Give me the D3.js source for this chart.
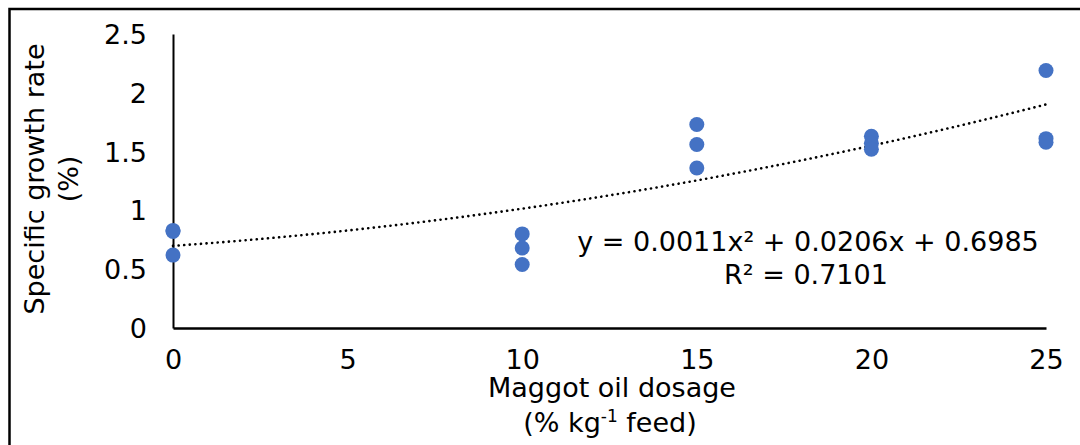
<!DOCTYPE html>
<html>
<head>
<meta charset="utf-8">
<script src="https://cdn.jsdelivr.net/npm/d3@7"></script>
<style>
  body { margin: 0; background: #fff; }
  svg text { font-family: "DejaVu Sans", Verdana, sans-serif; fill: #000; }
</style>
</head>
<body>
<svg id="chart"></svg>
<script>
// data
var dosage = [0, 0, 0, 10, 10, 10, 15, 15, 15, 20, 20, 20, 25, 25, 25];
var sgr    = [0.83, 0.82, 0.62, 0.80, 0.68, 0.54, 1.73, 1.56, 1.36, 1.63, 1.57, 1.52, 2.19, 1.61, 1.58];
var xTicks = [0, 5, 10, 15, 20, 25];
var yTicks = [0, 0.5, 1, 1.5, 2, 2.5];
var coef = [0.0011, 0.0206, 0.6985]; // a, b, c
var eqLabel = "y = 0.0011x² + 0.0206x + 0.6985";
var r2Label = "R² = 0.7101";

var W = 1080, H = 445, fs = "27px";
var svg = d3.select("#chart").attr("width", W).attr("height", H);

// outer frame (cropped on right/bottom)
svg.append("rect")
  .attr("x", 9.5).attr("y", 9)
  .attr("width", W + 20).attr("height", H + 20)
  .attr("fill", "none").attr("stroke", "#000").attr("stroke-width", 2.5);

var x = d3.scaleLinear().domain([0, 25]).range([173, 1046]);
var y = d3.scaleLinear().domain([0, 2.5]).range([328, 34]);

// axes
var xAxis = svg.append("g").attr("transform", "translate(0," + y(0) + ")")
  .call(d3.axisBottom(x).tickValues(xTicks).tickSize(0).tickPadding(22).tickFormat(d3.format("d")));
var yAxis = svg.append("g").attr("transform", "translate(" + x(0) + ",0)")
  .call(d3.axisLeft(y).tickValues(yTicks).tickSize(0).tickPadding(26).tickFormat(function(d){ return String(d); }));

xAxis.select(".domain").attr("stroke", "#000").attr("stroke-width", 2.5);
yAxis.select(".domain").attr("stroke", "#000").attr("stroke-width", 2);
svg.selectAll(".tick text").style("font-size", fs).style("font-family", '"DejaVu Sans", Verdana, sans-serif').attr("fill", "#000");
yAxis.selectAll(".tick text").attr("dy", "0.35em");
xAxis.selectAll(".tick text").attr("dy", "0.71em");

// trendline
var trend = d3.range(0, 25.01, 0.25).map(function(v) {
  return [v, coef[0] * v * v + coef[1] * v + coef[2]];
});
svg.append("path")
  .datum(trend)
  .attr("fill", "none")
  .attr("stroke", "#000")
  .attr("stroke-width", 2.6)
  .attr("stroke-dasharray", "0.1 5.5")
  .attr("stroke-linecap", "round")
  .attr("d", d3.line().x(function(d){ return x(d[0]); }).y(function(d){ return y(d[1]); }));

// points
svg.selectAll("circle.pt")
  .data(dosage).enter()
  .append("circle")
  .attr("class", "pt")
  .attr("cx", function(d){ return x(d); })
  .attr("cy", function(d, i){ return y(sgr[i]); })
  .attr("r", 7.5)
  .attr("fill", "#4472C4");

// equation
svg.append("text").attr("x", 808).attr("y", 251).attr("text-anchor", "middle")
  .style("font-size", fs).text(eqLabel);
svg.append("text").attr("x", 806).attr("y", 284).attr("text-anchor", "middle")
  .style("font-size", fs).text(r2Label);

// axis titles
var yt = svg.append("text").attr("transform", "translate(44,179) rotate(-90)")
  .attr("text-anchor", "middle").style("font-size", fs);
yt.append("tspan").attr("x", 0).attr("dy", 0).text("Specific growth rate");
yt.append("tspan").attr("x", 0).attr("dy", 34).text("(%)");

var xt = svg.append("text").attr("x", 612).attr("y", 397).attr("text-anchor", "middle")
  .style("font-size", fs).text("Maggot oil dosage");
var xt2 = svg.append("text").attr("x", 610).attr("y", 432).attr("text-anchor", "middle")
  .style("font-size", fs);
xt2.append("tspan").text("(% kg");
xt2.append("tspan").attr("dy", -10).style("font-size", "17px").text("-1");
xt2.append("tspan").attr("dy", 10).text(" feed)");
</script>
</body>
</html>
